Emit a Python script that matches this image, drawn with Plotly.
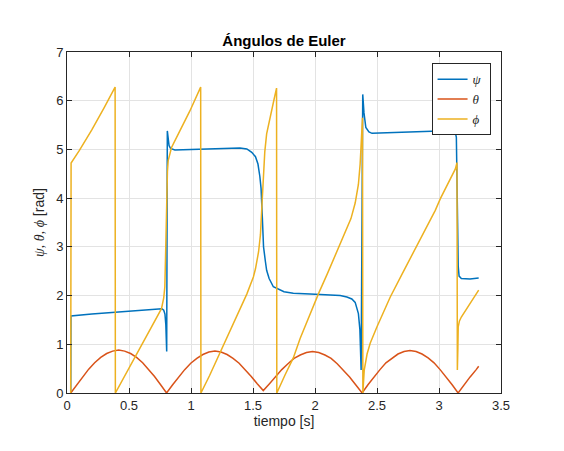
import plotly.graph_objects as go

# ---- data ----
t_psi = [0.030, 0.032, 0.20, 0.40, 0.587, 0.749, 0.765, 0.780, 0.790, 0.797, 0.801, 0.804,
         0.809, 0.815, 0.823, 0.835, 0.87, 1.00, 1.20, 1.395, 1.45, 1.49, 1.52, 1.54, 1.555,
         1.565, 1.572, 1.578, 1.585, 1.60, 1.61, 1.63, 1.664, 1.75, 1.825, 1.96, 2.10, 2.203,
         2.257, 2.297, 2.324, 2.350, 2.362, 2.372, 2.385, 2.395, 2.41, 2.435, 2.46, 2.60, 2.80,
         3.00, 3.105, 3.13, 3.14, 3.145, 3.150, 3.155, 3.162, 3.18, 3.25, 3.32]
psi = [0.00, 1.58, 1.62, 1.66, 1.70, 1.73, 1.73, 1.70, 1.62, 1.40, 1.10, 0.85,
       5.38, 5.20, 5.08, 5.02, 4.99, 5.00, 5.01, 5.03, 5.01, 4.94, 4.85, 4.70, 4.45,
       4.20, 3.80, 3.40, 3.00, 2.70, 2.52, 2.35, 2.18, 2.08, 2.05, 2.03, 2.02, 2.00,
       1.97, 1.93, 1.86, 1.63, 1.30, 0.47, 6.13, 5.75, 5.45, 5.36, 5.33, 5.34, 5.36,
       5.38, 5.40, 5.37, 5.25, 4.70, 3.50, 2.60, 2.40, 2.35, 2.34, 2.36]

t_theta = [0.030, 0.078, 0.127, 0.175, 0.223, 0.272, 0.320, 0.368, 0.417, 0.465, 0.513, 0.561,
           0.610, 0.658, 0.706, 0.755, 0.803,
           0.852, 0.901, 0.949, 0.998, 1.047, 1.096, 1.144, 1.193, 1.242, 1.291, 1.339, 1.388,
           1.437, 1.486, 1.534, 1.583,
           1.633, 1.682, 1.732, 1.782, 1.831, 1.881, 1.931, 1.980, 2.030, 2.080, 2.130, 2.179,
           2.229, 2.279, 2.328, 2.380,
           2.427, 2.475, 2.524, 2.572, 2.621, 2.669, 2.718, 2.766, 2.815, 2.863, 2.912, 2.960,
           3.009, 3.057, 3.106, 3.154,
           3.203, 3.251, 3.300, 3.320]
theta = [0.00, 0.17, 0.34, 0.49, 0.62, 0.73, 0.81, 0.86, 0.88, 0.86, 0.81, 0.73,
         0.62, 0.49, 0.34, 0.17, 0.00,
         0.17, 0.33, 0.48, 0.61, 0.71, 0.79, 0.84, 0.86, 0.84, 0.79, 0.71, 0.61,
         0.48, 0.34, 0.19, 0.05,
         0.19, 0.34, 0.48, 0.60, 0.71, 0.78, 0.83, 0.85, 0.83, 0.78, 0.71, 0.60,
         0.47, 0.33, 0.17, 0.00,
         0.17, 0.33, 0.48, 0.62, 0.72, 0.80, 0.85, 0.87, 0.85, 0.80, 0.72, 0.62,
         0.48, 0.33, 0.17, 0.00,
         0.17, 0.33, 0.48, 0.55]

t_phi = [0.030, 0.033, 0.10, 0.20, 0.30, 0.388,
         0.390, 0.50, 0.60, 0.70, 0.762, 0.780, 0.789, 0.797, 0.803, 0.810, 0.816, 0.830,
         0.843, 0.90, 0.991, 1.078,
         1.080, 1.15, 1.233, 1.30, 1.395, 1.45, 1.503, 1.52, 1.545, 1.56, 1.57, 1.577, 1.583,
         1.595, 1.61, 1.63, 1.65, 1.67, 1.690,
         1.692, 1.76, 1.825, 1.88, 1.96, 2.03, 2.10, 2.16, 2.203, 2.25, 2.29, 2.324, 2.35,
         2.364, 2.372, 2.378, 2.383,
         2.386, 2.390, 2.397, 2.42, 2.445, 2.50, 2.607, 2.70, 2.80, 2.90, 2.97, 3.011, 3.07,
         3.11, 3.132, 3.145,
         3.148, 3.152, 3.155, 3.165, 3.18, 3.22, 3.27, 3.32]
phi = [0.00, 4.72, 4.98, 5.40, 5.86, 6.28,
       0.00, 0.52, 0.98, 1.45, 1.73, 1.95, 2.18, 3.06, 4.09, 4.55, 4.77, 4.95,
       5.04, 5.33, 5.79, 6.28,
       0.00, 0.36, 0.82, 1.18, 1.70, 2.03, 2.38, 2.55, 2.90, 3.25, 3.75, 4.15, 4.50,
       4.95, 5.32, 5.58, 5.79, 6.03, 6.26,
       0.00, 0.38, 0.72, 1.12, 1.62, 2.05, 2.45, 2.80, 3.06, 3.33, 3.58, 3.90, 4.28,
       4.70, 5.10, 5.62, 5.65,
       0.00, 0.30, 0.47, 0.80, 1.02, 1.36, 1.97, 2.43, 2.92, 3.41, 3.75, 3.99, 4.30,
       4.50, 4.60, 4.73,
       0.47, 0.90, 1.36, 1.48, 1.56, 1.72, 1.91, 2.11]

x_ticks = [0, 0.5, 1, 1.5, 2, 2.5, 3, 3.5]
y_ticks = [0, 1, 2, 3, 4, 5, 6, 7]

names = ["<i>ψ</i> ", "<i>θ</i> ", "<i>ϕ</i> "]
colors = ["#0072BD", "#D95319", "#EDB120"]

fig = go.Figure()
for tx, ty, nm, c in [(t_psi, psi, names[0], colors[0]),
                      (t_theta, theta, names[1], colors[1]),
                      (t_phi, phi, names[2], colors[2])]:
    fig.add_trace(go.Scatter(x=tx, y=ty, mode="lines", name=nm,
                             line=dict(color=c, width=1.5)))

SANS = "Liberation Sans, Arial, sans-serif"
axis_common = dict(
    showline=True, linecolor="#262626", linewidth=1, mirror="ticks",
    ticks="inside", ticklen=5, tickwidth=1, tickcolor="#262626",
    showgrid=True, gridcolor="#e3e3e3", gridwidth=1, zeroline=False,
    tickfont=dict(family=SANS, size=13, color="#262626"),
)

# the page body adds an 8px offset, so margins are reduced by 8 on the left/top
fig.update_layout(
    width=564, height=451,
    margin=dict(l=59, r=71, t=44, b=66),
    paper_bgcolor="white", plot_bgcolor="white",
    title=dict(text="<b>Ángulos de Euler</b>", x=0.5, xref="paper", xanchor="center",
               y=1 - 33 / 451, yref="container", yanchor="middle",
               font=dict(family=SANS, size=15, color="black")),
    xaxis=dict(range=[0, 3.5], tickvals=x_ticks, ticktext=[str(v) for v in x_ticks],
               title=dict(text="tiempo [s]", standoff=4,
                          font=dict(family=SANS, size=14, color="#262626")),
               **axis_common),
    yaxis=dict(range=[0, 7], tickvals=y_ticks, ticktext=[str(v) for v in y_ticks],
               title=dict(text='<span style="font-family:Liberation Serif"><i>ψ</i>, <i>θ</i>, <i>ϕ</i></span> [rad]',
                          standoff=8,
                          font=dict(family=SANS, size=14, color="#262626")),
               **axis_common),
    legend=dict(x=0.84, y=0.967, xanchor="left", yanchor="top",
                bgcolor="white", bordercolor="#262626", borderwidth=1,
                font=dict(family="Liberation Serif, serif", size=13, color="#262626"),
                tracegroupgap=0, itemwidth=30),
    showlegend=True,
)

fig.write_html("out.html")
